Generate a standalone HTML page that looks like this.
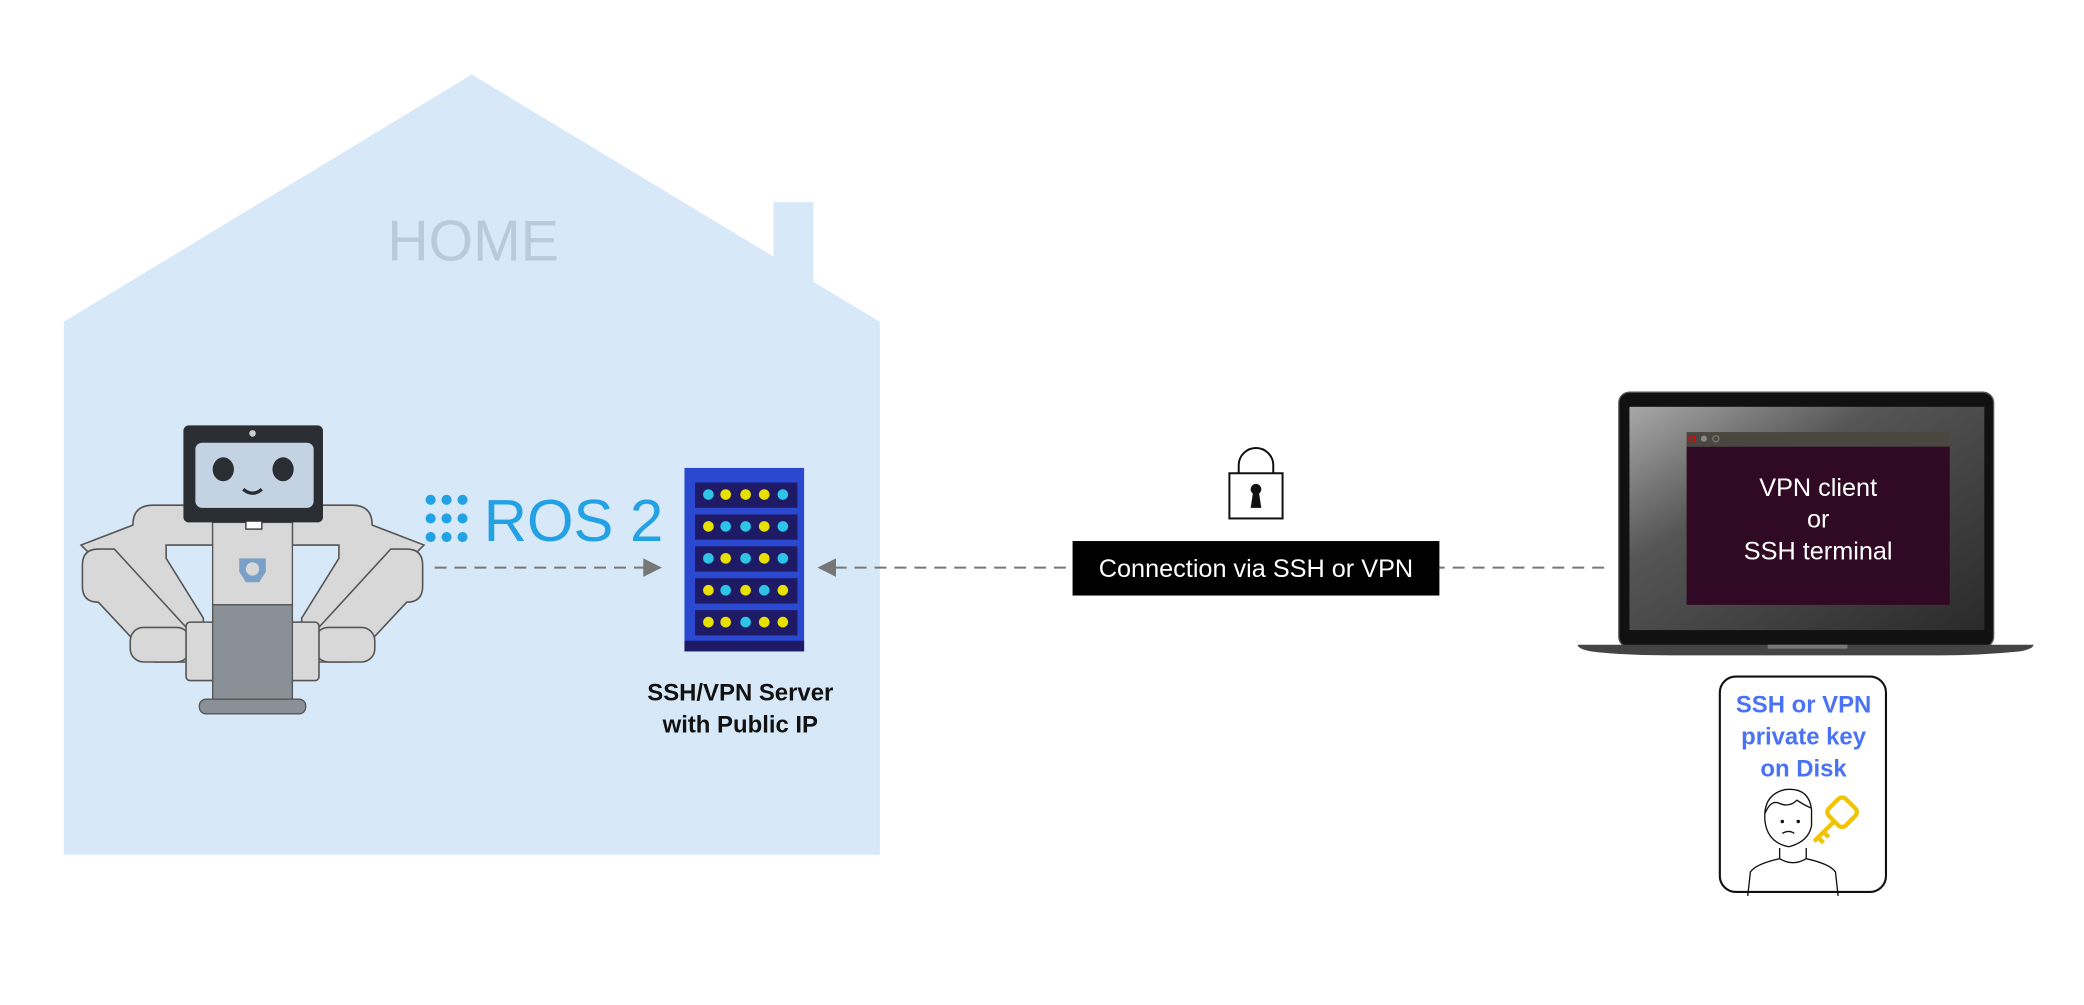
<!DOCTYPE html>
<html><head><meta charset="utf-8"><style>html,body{margin:0;padding:0;background:#fff}svg{display:block}</style></head>
<body>
<svg width="2084" height="1005" viewBox="0 0 1568 756" xmlns="http://www.w3.org/2000/svg" font-family="Liberation Sans, sans-serif">
<defs>
<linearGradient id="scr" x1="0" y1="0" x2="1" y2="1"><stop offset="0" stop-color="#a8a8a8"/><stop offset="0.35" stop-color="#555"/><stop offset="1" stop-color="#2a2a2a"/></linearGradient>
</defs>
<!-- house -->
<polygon points="48,242 355,56 582,193 582,152 612,152 612,212 662,242 662,643 48,643" fill="#d7e8f8"/>
<text x="356" y="196" text-anchor="middle" font-size="43" fill="#b7cbd9">HOME</text>
<!-- robot arms -->
<g fill="#d8d8d8" stroke="#555" stroke-width="1.2">
<path d="M100,395 q0,-15 15,-15 h45 v30 h-35 v10 l28,45 v15 h-22 l-50,-50 q-15,-15 -20,-20 z"/>
<path d="M280,395 q0,-15 -15,-15 h-45 v30 h35 v10 l-28,45 v15 h22 l50,-50 q15,-15 20,-20 z"/>
<path d="M62,425 q0,-12 12,-12 h12 l55,60 v25 h-25 l-42,-45 q-12,0 -12,-12 z"/>
<path d="M318,425 q0,-12 -12,-12 h-12 l-55,60 v25 h25 l42,-45 q12,0 12,-12 z"/>
<rect x="98" y="472" width="45" height="26" rx="10"/>
<rect x="237" y="472" width="45" height="26" rx="10"/>
<rect x="140" y="468" width="22" height="44" rx="3"/>
<rect x="218" y="468" width="22" height="44" rx="3"/>
</g>
<rect x="160" y="393" width="60" height="62" fill="#d8d8d8" stroke="#555" stroke-width="1"/>
<rect x="160" y="455" width="60" height="73" fill="#8a9098" stroke="#555" stroke-width="1"/>
<rect x="150" y="526" width="80" height="11" rx="5" fill="#8a9098" stroke="#555"/>
<path d="M180,420 h20 v10 l-5,8 h-10 l-5,-8 z" fill="#7aa0c8"/>
<circle cx="190" cy="428" r="5" fill="#d8d8d8"/>
<rect x="138" y="320" width="105" height="73" rx="4" fill="#2a2e33"/>
<rect x="147" y="333" width="89" height="49" rx="5" fill="#c3d3e3"/>
<circle cx="190" cy="326" r="2.5" fill="#ccc"/>
<ellipse cx="168" cy="353" rx="8" ry="9" fill="#2a2e33"/>
<ellipse cx="213" cy="353" rx="8" ry="9" fill="#2a2e33"/>
<path d="M183,368 q7,6 14,0" stroke="#2a2e33" stroke-width="2.5" fill="none"/>
<rect x="185" y="392" width="12" height="6" fill="#fff" stroke="#333"/>
<!-- ROS2 -->
<g fill="#22a1e4">
<circle cx="324" cy="376" r="3.8"/><circle cx="336" cy="376" r="3.8"/><circle cx="348" cy="376" r="3.8"/>
<circle cx="324" cy="390" r="3.8"/><circle cx="336" cy="390" r="3.8"/><circle cx="348" cy="390" r="3.8"/>
<circle cx="324" cy="404" r="3.8"/><circle cx="336" cy="404" r="3.8"/><circle cx="348" cy="404" r="3.8"/>
</g>
<text x="364" y="407" font-size="45" fill="#22a1e4">ROS 2</text>
<!-- server -->
<rect x="515" y="352" width="90" height="138" fill="#2a48d0"/>
<rect x="515" y="482" width="90" height="8" fill="#1e1a66"/>
<g>
<rect x="523" y="363" width="77" height="19" fill="#1e1a66"/>
<rect x="523" y="387" width="77" height="19" fill="#1e1a66"/>
<rect x="523" y="411" width="77" height="19" fill="#1e1a66"/>
<rect x="523" y="435" width="77" height="19" fill="#1e1a66"/>
<rect x="523" y="459" width="77" height="19" fill="#1e1a66"/>
</g>
<g>
<circle cx="533" cy="372" r="4" fill="#2ec4e8"/><circle cx="546" cy="372" r="4" fill="#e8e000"/><circle cx="561" cy="372" r="4" fill="#e8e000"/><circle cx="575" cy="372" r="4" fill="#e8e000"/><circle cx="589" cy="372" r="4" fill="#2ec4e8"/>
<circle cx="533" cy="396" r="4" fill="#e8e000"/><circle cx="546" cy="396" r="4" fill="#2ec4e8"/><circle cx="561" cy="396" r="4" fill="#2ec4e8"/><circle cx="575" cy="396" r="4" fill="#e8e000"/><circle cx="589" cy="396" r="4" fill="#2ec4e8"/>
<circle cx="533" cy="420" r="4" fill="#2ec4e8"/><circle cx="546" cy="420" r="4" fill="#e8e000"/><circle cx="561" cy="420" r="4" fill="#2ec4e8"/><circle cx="575" cy="420" r="4" fill="#e8e000"/><circle cx="589" cy="420" r="4" fill="#2ec4e8"/>
<circle cx="533" cy="444" r="4" fill="#e8e000"/><circle cx="546" cy="444" r="4" fill="#2ec4e8"/><circle cx="561" cy="444" r="4" fill="#e8e000"/><circle cx="575" cy="444" r="4" fill="#2ec4e8"/><circle cx="589" cy="444" r="4" fill="#e8e000"/>
<circle cx="533" cy="468" r="4" fill="#e8e000"/><circle cx="546" cy="468" r="4" fill="#e8e000"/><circle cx="561" cy="468" r="4" fill="#2ec4e8"/><circle cx="575" cy="468" r="4" fill="#e8e000"/><circle cx="589" cy="468" r="4" fill="#e8e000"/>
</g>
<text x="557" y="527" text-anchor="middle" font-size="18" font-weight="bold" fill="#111">SSH/VPN Server</text>
<text x="557" y="551" text-anchor="middle" font-size="18" font-weight="bold" fill="#111">with Public IP</text>
<!-- arrows -->
<line x1="327" y1="427" x2="486" y2="427" stroke="#777" stroke-width="1.5" stroke-dasharray="9,6"/>
<polygon points="484,420 498,427 484,434" fill="#777"/>
<line x1="628" y1="427" x2="1212" y2="427" stroke="#777" stroke-width="1.5" stroke-dasharray="9,6"/>
<polygon points="629,420 615,427 629,434" fill="#777"/>
<rect x="807" y="407" width="276" height="41" fill="#000"/>
<text x="945" y="434" text-anchor="middle" font-size="19" fill="#fff">Connection via SSH or VPN</text>
<!-- lock -->
<path d="M932,356 v-6 a13,13 0 0 1 26,0 v6" fill="none" stroke="#111" stroke-width="1.5"/>
<rect x="925" y="356" width="40" height="34" fill="#fff" stroke="#111" stroke-width="1.5"/>
<circle cx="945" cy="368" r="4" fill="#111"/><path d="M943,369 h4 l2,13 h-8 z" fill="#111"/>
<!-- laptop -->
<rect x="1218" y="295" width="282" height="192" rx="8" fill="#111" stroke="#555"/>
<rect x="1226" y="306" width="267" height="168" fill="url(#scr)"/>
<rect x="1269" y="325" width="198" height="11" fill="#4a4640"/>
<circle cx="1273" cy="330" r="2.3" fill="none" stroke="#e00" stroke-width="1"/>
<circle cx="1282" cy="330" r="2.3" fill="#888"/><circle cx="1291" cy="330" r="2.3" fill="none" stroke="#777"/>
<rect x="1269" y="336" width="198" height="119" fill="#300a24"/>
<text x="1368" y="373" text-anchor="middle" font-size="19" fill="#fff">VPN client</text>
<text x="1368" y="397" text-anchor="middle" font-size="19" fill="#fff">or</text>
<text x="1368" y="421" text-anchor="middle" font-size="19" fill="#fff">SSH terminal</text>
<path d="M1187,485 h343 q0,3 -10,5 q-30,3 -60,3 h-200 q-40,0 -63,-3 q-10,-2 -10,-5 z" fill="#444"/>
<rect x="1330" y="485" width="60" height="3" fill="#777"/>
<!-- key box -->
<rect x="1294" y="509" width="125" height="162" rx="12" fill="#fff" stroke="#111" stroke-width="1.6"/>
<text x="1357" y="536" text-anchor="middle" font-size="18" font-weight="bold" fill="#4a72f5">SSH or VPN</text>
<text x="1357" y="560" text-anchor="middle" font-size="18" font-weight="bold" fill="#4a72f5">private key</text>
<text x="1357" y="584" text-anchor="middle" font-size="18" font-weight="bold" fill="#4a72f5">on Disk</text>
<g fill="none" stroke="#111" stroke-width="1">
<path d="M1328,618 q-2,-20 15,-24 q18,-2 20,15 v12 q-2,12 -17,16 q-16,-3 -18,-19 z" fill="#fff"/>
<path d="M1328,612 q4,-10 10,-8 q8,4 14,-2 q6,4 11,6"/>
<path d="M1339,638 v8 q-18,4 -22,10 l-2,18 M1359,638 v8 q18,4 22,10 l2,18 M1339,646 q10,6 20,0"/>
<path d="M1341,627 q5,-3 9,0"/>
</g>
<circle cx="1341" cy="618" r="1.3" fill="#111"/><circle cx="1353" cy="618" r="1.3" fill="#111"/>
<g fill="none" stroke="#f2c300" stroke-width="3.2" stroke-linejoin="round">
<rect x="1377" y="602" width="18" height="18" rx="4" transform="rotate(45 1386 611)"/>
<path d="M1380,618 l-15,15 M1368,630 l4,4 M1372,626 l4,4"/>
</g>
</svg>
</body></html>
